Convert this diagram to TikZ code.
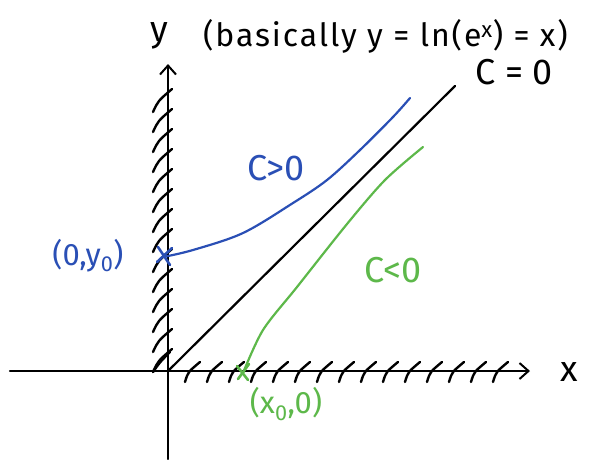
\documentclass[tikz,border=0pt]{standalone}
\usepackage{fontspec}
\setmainfont{Fira Sans}
\usetikzlibrary{arrows.meta}
\definecolor{hblue}{HTML}{2A4FB5}
\definecolor{hgreen}{HTML}{5DB84A}
\tikzset{
  ink/.style={line width=2.2pt, line cap=round, line join=round},
  axisline/.style={ink, black, -{Straight Barb[length=9pt,width=16pt,line width=2pt]}},
  hatch/.style={line width=2.4pt, line cap=round, black},
  lbl/.style={font=\fontsize{36}{40}\selectfont, inner sep=0pt},
  notefont/.style={font=\fontsize{32}{34}\selectfont\addfontfeature{LetterSpace=6}, inner sep=0pt},
  small/.style={font=\fontsize{31}{34}\selectfont, inner sep=0pt},
  crossmark/.style={line width=2.6pt, line cap=round}
}
\begin{document}
\begin{tikzpicture}[x=1pt,y=-1pt]
\useasboundingbox (0,0) rectangle (615,459);
% axes
\coordinate (ybot) at (168,459);
\coordinate (ytop) at (168,64);
\coordinate (xl) at (10,371);
\coordinate (xr) at (530,371);
\draw[axisline] (ybot) -- (ytop);
\draw[axisline] (xl) -- (xr);
% hatches on y-axis
\foreach \yy in {95,115,...,355}{
  \draw[hatch] (153,\yy+17) .. controls (158,\yy+6) .. (172,\yy-6);
}
\draw[hatch] (153,372) .. controls (160,362) .. (170,352);
% hatches on x-axis
\foreach \xx in {192,214,...,500}{
  \draw[hatch] (\xx-7,382) .. controls (\xx-4,372) .. (\xx+8,362);
}
% C=0 line
\coordinate (o) at (168,371);
\coordinate (c0end) at (455,86);
\draw[ink] (o) -- (c0end);
% labels
\node[lbl] (ylab) at (159,36) {y};
\node[notefont, anchor=west] (note) at (203,36) {(basically y = ln(e\textsuperscript{x}) = x)};
\node[lbl] (c0) at (514,72) {C = 0};
\node[lbl] (xlab) at (569,372) {x};
% blue curve
\coordinate (b0) at (163,257);
\coordinate (b1) at (410,98);
\draw[ink, hblue] plot[smooth, tension=0.55] coordinates {(163,257) (193,250) (243,233) (293,203) (327,180) (360,150) (393,117) (410,98)};
\draw[crossmark, hblue] (158,247) -- (170,265);
\draw[crossmark, hblue] (157,262) -- (172,248);
\node[lbl, hblue] (cpos) at (276,168) {C>0};
\node[small, hblue] (p0) at (88,256) {(0,y\textsubscript{0})};
% green curve
\coordinate (g0) at (243,373);
\coordinate (g1) at (423,147);
\draw[ink, hgreen] plot[smooth, tension=0.5] coordinates {(243,373) (263,330) (297,287) (347,224) (385,180) (423,147)};
\draw[crossmark, hgreen] (237,366) -- (248,380);
\draw[crossmark, hgreen] (249,364) -- (238,379);
\node[lbl, hgreen] (cneg) at (393,270) {C<0};
\node[small, hgreen] (q0) at (286,404) {(x\textsubscript{0},0)};
\end{tikzpicture}
\end{document}
